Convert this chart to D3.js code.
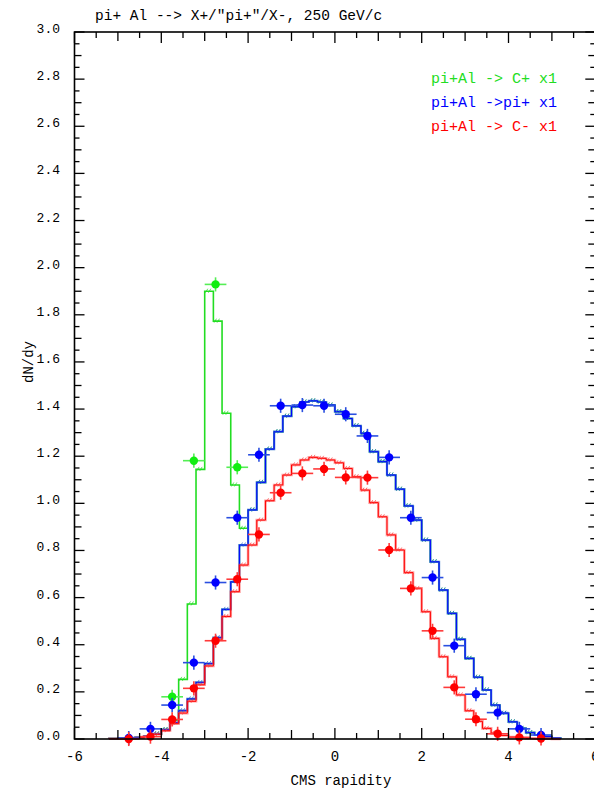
<!DOCTYPE html>
<html><head><meta charset="utf-8">
<script src="https://cdn.jsdelivr.net/npm/d3@7"></script>
<style>
html,body{margin:0;padding:0;background:#fff;}
svg text{font-family:"Liberation Mono","DejaVu Sans Mono",monospace;}
</style></head>
<body><svg id="c" width="594" height="791"></svg>
<script>
// ---------------- data ----------------
const titleText = 'pi+ Al --> X+/"pi+"/X-, 250 GeV/c';
const xLabel = "CMS rapidity";
const yLabel = "dN/dy";
const xTickLabels = [-6, -4, -2, 0, 2, 4, 6];
const yTickLabels = [0.0, 0.2, 0.4, 0.6, 0.8, 1.0, 1.2, 1.4, 1.6, 1.8, 2.0, 2.2, 2.4, 2.6, 2.8, 3.0];
const legendLabels = ["pi+Al -> C+ x1", "pi+Al ->pi+ x1", "pi+Al -> C- x1"];

// histogram bins: lower edges, width 0.2
const binLo = [-5.2,-5.0,-4.8,-4.6,-4.4,-4.2,-4.0,-3.8,-3.6,-3.4,-3.2,-3.0,-2.8,-2.6,-2.4,-2.2,-2.0,-1.8,-1.6,-1.4,-1.2,-1.0,-0.8,-0.6,-0.4,-0.2,
  0.0,0.2,0.4,0.6,0.8,1.0,1.2,1.4,1.6,1.8,2.0,2.2,2.4,2.6,2.8,3.0,3.2,3.4,3.6,3.8,4.0,4.2,4.4,4.6,4.8,5.0];
const binWidth = 0.2;
const greenHist = [0.002,0.003,0.005,0.007,0.012,0.022,0.04,0.08,0.253,0.573,1.144,1.90,1.773,1.382,1.078,0.894,
  0.972,1.089,1.23,1.304,1.37,1.41,1.43,1.435,1.43,1.417,1.389,1.36,1.329,1.297,1.219,1.177,1.12,1.06,0.989,0.929,
  0.844,0.752,0.632,0.533,0.423,0.342,0.262,0.208,0.144,0.109,0.073,0.045,0.027,0.017,0.01,0.004];
const blueHist = [0.002,0.003,0.005,0.007,0.012,0.022,0.04,0.07,0.12,0.17,0.24,0.32,0.43,0.55,0.667,0.823,
  0.972,1.089,1.23,1.304,1.37,1.41,1.43,1.435,1.43,1.417,1.389,1.36,1.329,1.297,1.219,1.177,1.12,1.06,0.989,0.929,
  0.844,0.752,0.632,0.533,0.423,0.342,0.262,0.208,0.144,0.109,0.073,0.045,0.027,0.017,0.01,0.004];
const redHist = [0.001,0.002,0.003,0.005,0.01,0.02,0.035,0.065,0.11,0.16,0.23,0.31,0.42,0.52,0.625,0.738,
  0.823,0.929,1.011,1.078,1.12,1.163,1.184,1.195,1.191,1.184,1.172,1.148,1.113,1.056,1.003,0.943,0.866,0.802,0.706,0.639,
  0.54,0.427,0.349,0.264,0.187,0.12,0.075,0.045,0.025,0.015,0.008,0.004,0.002,0.001,0.001,0.0];

// data points
const greenX = [-3.75, -3.25, -2.75, -2.25];
const greenY = [0.179, 1.181, 1.929, 1.153];
const pointX = [-4.75,-4.25,-3.75,-3.25,-2.75,-2.25,-1.75,-1.25,-0.75,-0.25,0.25,0.75,1.25,1.75,2.25,2.75,3.25,3.75,4.25,4.75];
const blueY = [0.004,0.043,0.144,0.324,0.664,0.939,1.206,1.414,1.417,1.414,1.378,1.286,1.195,0.939,0.685,0.396,0.19,0.112,0.043,0.017];
const redY  = [0.0,0.01,0.083,0.215,0.417,0.678,0.868,1.045,1.127,1.146,1.11,1.109,0.802,0.639,0.459,0.219,0.084,0.022,0.007,0.002];
const xErr = 0.25;
const yErr = 0.03;

// ---------------- drawing ----------------
const svg = d3.select("#c");
const x = d3.scaleLinear().domain([-6, 6]).range([74.5, 595.3]);
const y = d3.scaleLinear().domain([0, 3]).range([739, 32]);

const GREEN = "#22dd22", BLUE = "#0000ff", RED = "#ff0000";

function stepPath(vals) {
  const pts = [];
  pts.push([x(binLo[0]), y(0)]);
  vals.forEach((v, i) => {
    pts.push([x(binLo[i]), y(v)]);
    pts.push([x(binLo[i] + binWidth), y(v)]);
  });
  pts.push([x(binLo[binLo.length - 1] + binWidth), y(0)]);
  return d3.line()(pts);
}
function hatches(g, vals, color) {
  vals.forEach((v, i) => {
    if (v < 0.02) return;
    const cx = x(binLo[i] + binWidth * 0.45), cy = y(v);
    [-2, 1].forEach(dx => {
      g.append("line").attr("x1", cx + dx - 1.2).attr("y1", cy + 1.5)
        .attr("x2", cx + dx + 1.2).attr("y2", cy - 2.5)
        .attr("stroke", color).attr("stroke-width", 0.9).attr("opacity", 0.8);
    });
  });
}

const gH = svg.append("g");
// green histogram
gH.append("path").attr("d", stepPath(greenHist)).attr("fill", "none").attr("stroke", GREEN).attr("stroke-width", 1.6);
hatches(gH, greenHist, GREEN);
// blue histogram (with steel-blue halo)
gH.append("path").attr("d", stepPath(blueHist)).attr("fill", "none").attr("stroke", "#3b7cc8").attr("stroke-width", 2.2);
gH.append("path").attr("d", stepPath(blueHist)).attr("fill", "none").attr("stroke", BLUE).attr("stroke-width", 1);
hatches(gH, blueHist, "#2060d0");
// red histogram (with pink halo)
gH.append("path").attr("d", stepPath(redHist)).attr("fill", "none").attr("stroke", "rgba(255,80,80,0.55)").attr("stroke-width", 2.6);
gH.append("path").attr("d", stepPath(redHist)).attr("fill", "none").attr("stroke", RED).attr("stroke-width", 1);
hatches(gH, redHist, "#ff4040");

// points
function drawPoints(xs, ys, color, barColor) {
  const g = svg.append("g");
  xs.forEach((xv, i) => {
    const yv = ys[i];
    g.append("line").attr("x1", x(xv - xErr)).attr("x2", x(xv + xErr)).attr("y1", y(yv)).attr("y2", y(yv))
      .attr("stroke", barColor).attr("stroke-width", 1.6);
    g.append("line").attr("x1", x(xv)).attr("x2", x(xv)).attr("y1", y(yv - yErr)).attr("y2", y(yv + yErr))
      .attr("stroke", barColor).attr("stroke-width", 1.6);
    g.append("circle").attr("cx", x(xv)).attr("cy", y(yv)).attr("r", 4.2).attr("fill", color);
  });
}
drawPoints(greenX, greenY, "#11ee11", "#55ee55");
drawPoints(pointX, blueY, BLUE, "#2a4fe0");
drawPoints(pointX, redY, RED, "#ff3a3a");

// frame
const gA = svg.append("g").attr("stroke", "#000");
gA.append("rect").attr("x", x(-6)).attr("y", y(3)).attr("width", x(6) - x(-6)).attr("height", y(0) - y(3))
  .attr("fill", "none").attr("stroke-width", 1.6);

// x ticks (bottom & top)
d3.range(-6, 6.001, 0.5).forEach(t => {
  const r = Math.round(t * 2) / 2;
  let len = 6;
  if (Number.isInteger(r)) len = (Math.abs(r) % 2 === 0) ? 11 : 9;
  gA.append("line").attr("x1", x(r)).attr("x2", x(r)).attr("y1", y(0)).attr("y2", y(0) - len).attr("stroke-width", 1.3);
  gA.append("line").attr("x1", x(r)).attr("x2", x(r)).attr("y1", y(3)).attr("y2", y(3) + len).attr("stroke-width", 1.3);
});
// y ticks (left & right)
d3.range(0, 3.0001, 0.05).forEach(t => {
  const k = Math.round(t * 20);
  let len = 5;
  if (k % 4 === 0) len = 10; else if (k % 2 === 0) len = 7;
  const yy = y(k / 20);
  gA.append("line").attr("x1", x(-6)).attr("x2", x(-6) + len).attr("y1", yy).attr("y2", yy).attr("stroke-width", 1.3);
  gA.append("line").attr("x1", x(6)).attr("x2", x(6) - len).attr("y1", yy).attr("y2", yy).attr("stroke-width", 1.3);
});

// tick labels
const gT = svg.append("g").attr("fill", "#000");
xTickLabels.forEach(t => {
  gT.append("text").attr("x", x(t)).attr("y", 761).attr("text-anchor", "middle")
    .attr("font-size", 14).text(String(t));
});
yTickLabels.forEach(t => {
  gT.append("text").attr("x", 60).attr("y", y(t) + 1).attr("text-anchor", "end")
    .attr("font-size", 13).text(t.toFixed(1));
});

// axis titles
gT.append("text").attr("x", 341).attr("y", 785).attr("text-anchor", "middle").attr("font-size", 14).text(xLabel);
gT.append("text").attr("transform", "translate(33,362) rotate(-90)").attr("text-anchor", "middle")
  .attr("font-size", 14).text(yLabel);

// title
gT.append("text").attr("x", 95).attr("y", 20).attr("font-size", 14.5).text(titleText);

// legend
const legColors = [GREEN, BLUE, RED];
legendLabels.forEach((l, i) => {
  gT.append("text").attr("x", 557).attr("y", 83 + i * 24).attr("text-anchor", "end")
    .attr("font-size", 15).attr("fill", legColors[i]).text(l);
});
</script>
</body></html>
